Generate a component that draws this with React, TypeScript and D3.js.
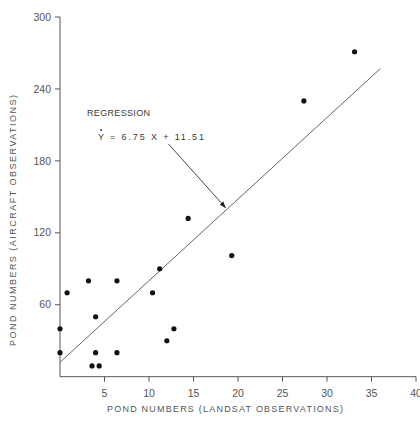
import React from "react";
import * as d3 from "d3";

// pond counts: landsat (x) vs aircraft (y)
const landsat = [0, 0, 0.8, 3.2, 6.4, 4.0, 4.0, 3.6, 4.4, 6.4, 10.4, 11.2, 12.0, 12.8, 14.4, 19.3, 27.4, 33.1];
const aircraft = [40, 20, 70, 80, 80, 50, 20, 9, 9, 20, 70, 90, 30, 40, 132, 101, 230, 271];

const xTicks = [5, 10, 15, 20, 25, 30, 35, 40];
const yTicks = [60, 120, 180, 240, 300];

// regression line as drawn on the figure (ends)
const lineX = [0, 36];
const lineY = [12, 257];

// annotation arrow: from label to line
const arrowX = [12.2, 18.6];
const arrowY = [194, 141];

const xTitle = "POND NUMBERS  (LANDSAT OBSERVATIONS)";
const yTitle = "POND NUMBERS  (AIRCRAFT OBSERVATIONS)";
const regLabel = "REGRESSION";
const regEquation = "Y = 6.75 X + 11.51";

export default function App() {
  const width = 420;
  const height = 423;
  const x = d3.scaleLinear().domain([0, 40]).range([60, 416]);
  const y = d3.scaleLinear().domain([0, 300]).range([376.7, 17]);
  const ink = "#3a3a3a";
  const axisCol = "#555";
  const font = "'Liberation Sans', Arial, sans-serif";

  const line = d3
    .line<number>()
    .x((d) => x(lineX[d]))
    .y((d) => y(lineY[d]));

  return (
    <div style={{ position: "fixed", left: 0, top: 0 }}>
      <svg width={width} height={height} style={{ display: "block", background: "#fff" }}>
        <defs>
          <marker id="head" viewBox="0 0 10 10" refX="9" refY="5" markerWidth="7" markerHeight="7" orient="auto">
            <path d="M0,1.5 L10,5 L0,8.5 Z" fill="#222" />
          </marker>
        </defs>

        {/* axes */}
        <g stroke={axisCol} strokeWidth={1} fill="none">
          <line x1={x(0)} x2={x(0)} y1={y(0)} y2={y(300)} />
          <line x1={x(0)} x2={x(40)} y1={y(0)} y2={y(0)} />
          {yTicks.map((t) => (
            <line key={t} x1={x(0) - 5} x2={x(0)} y1={y(t)} y2={y(t)} />
          ))}
          {xTicks.map((t) => (
            <line key={t} x1={x(t)} x2={x(t)} y1={y(0)} y2={y(0) + 5} />
          ))}
        </g>

        <g fill="#555" fontFamily={font} fontSize={10.5}>
          {yTicks.map((t) => (
            <text key={t} x={x(0) - 9} y={y(t)} dy="0.35em" textAnchor="end">
              {t}
            </text>
          ))}
          {xTicks.map((t) => (
            <text key={t} x={x(t)} y={y(0) + 20} textAnchor="middle">
              {t}
            </text>
          ))}
        </g>

        {/* axis titles */}
        <text
          x={107}
          y={412}
          fill="#555"
          fontFamily={font}
          fontSize={9}
          textLength={236}
          lengthAdjust="spacing"
        >
          {xTitle}
        </text>
        <text
          transform="translate(16,346) rotate(-90)"
          fill="#555"
          fontFamily={font}
          fontSize={9}
          textLength={251}
          lengthAdjust="spacing"
        >
          {yTitle}
        </text>

        {/* regression line */}
        <path d={line([0, 1]) || ""} fill="none" stroke="#666" strokeWidth={1} />

        {/* annotation */}
        <text x={87} y={116} fill={ink} fontFamily={font} fontSize={9} textLength={63} lengthAdjust="spacing">
          {regLabel}
        </text>
        <text x={98} y={140} fill={ink} fontFamily={font} fontSize={9} textLength={106} lengthAdjust="spacing">
          {regEquation}
        </text>
        <circle cx={101.2} cy={130} r={1} fill={ink} />
        <line
          x1={x(arrowX[0])}
          y1={y(arrowY[0])}
          x2={x(arrowX[1])}
          y2={y(arrowY[1])}
          stroke="#444"
          strokeWidth={1}
          markerEnd="url(#head)"
        />

        {/* points */}
        <g fill="#111">
          {landsat.map((v, i) => (
            <circle key={i} cx={x(v)} cy={y(aircraft[i])} r={2.6} />
          ))}
        </g>
      </svg>
    </div>
  );
}
